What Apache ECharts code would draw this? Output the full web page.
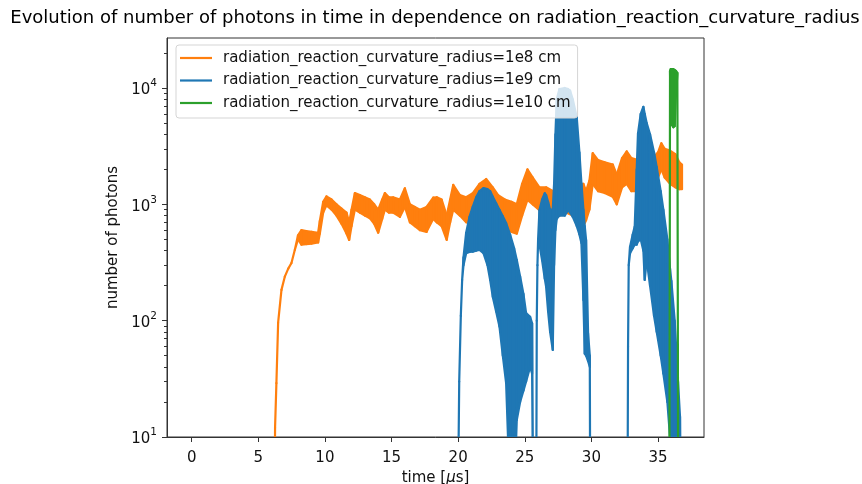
<!DOCTYPE html>
<html>
<head>
<meta charset="utf-8">
<script src="https://cdn.jsdelivr.net/npm/echarts@6/dist/echarts.min.js"></script>
<style>
html,body{margin:0;padding:0;background:#fff;}
#chart{width:862px;height:484px;}
</style>
</head>
<body>
<div id="chart"></div>
<script>
// ---------------- data ----------------
const TITLE = 'Evolution of number of photons in time in dependence on radiation_reaction_curvature_radius';
const SERIES_NAMES = [
  'radiation_reaction_curvature_radius=1e8 cm',
  'radiation_reaction_curvature_radius=1e9 cm',
  'radiation_reaction_curvature_radius=1e10 cm'
];
const X_TICKS = [0, 5, 10, 15, 20, 25, 30, 35];
const Y_TICKS = [10, 100, 1000, 10000];
const Y_MINOR = [20,30,40,50,60,70,80,90,200,300,400,500,600,700,800,900,2000,3000,4000,5000,6000,7000,8000,9000,20000];

// 1e8 cm (orange): time, lower envelope, upper envelope of the noisy trace
const T_1E8  = [6.20,6.26,6.36,6.49,6.74,6.99,7.25,7.49,7.74,7.98,8.24,8.6,9.0,9.49,9.62,9.87,10.12,10.5,10.87,11.25,11.62,11.82,12.0,12.25,12.62,13.0,13.37,13.7,14.0,14.3,14.5,14.8,15.12,15.63,16.0,16.38,16.75,17.13,17.63,18.13,18.4,18.76,19.14,19.4,19.63,20.13,20.6,21.1,21.6,22.1,22.6,23.0,23.5,24.0,24.4,24.8,25.2,25.6,26.1,26.6,27.1,27.6,28.1,28.6,29.1,29.4,29.6,29.85,30.1,30.5,31.0,31.6,31.9,32.3,32.65,33.0,33.5,34.0,34.5,35.0,35.25,35.5,35.9,36.3,36.6,36.8];
const LO_1E8 = [1,12,29,96,184,239,280,313,405,500,450,455,460,470,560,850,980,900,800,680,560,494,650,900,850,800,760,680,570,750,900,850,850,780,950,700,650,600,580,750,700,650,495,700,900,800,700,750,900,950,850,700,620,580,560,800,1090,1000,890,900,800,800,850,800,700,650,730,900,1500,1300,1250,1160,1000,1400,1500,1300,1300,1400,1400,1700,2000,1700,1500,1400,1350,1350];
const HI_1E8 = [1,12,29,96,184,239,280,313,405,540,600,590,580,570,720,1050,1170,1100,1000,920,850,700,900,1250,1200,1150,1100,1000,900,1100,1250,1150,1150,1100,1375,1000,950,900,950,1140,1150,1100,800,1100,1470,1200,1150,1250,1500,1650,1400,1200,1100,1050,1000,1500,2000,1700,1400,1400,1300,1300,1350,1300,1400,1500,1300,1600,2750,2400,2300,2200,1800,2500,2850,2500,2400,2400,2400,2800,3350,3000,2900,2700,2300,2200];

// 1e9 cm (blue)
const T_1E9  = [19.95,20.08,20.2,20.3,20.4,20.6,20.85,21.1,21.35,21.6,21.9,22.2,22.4,22.6,22.85,23.1,23.35,23.6,23.9,24.2,24.4,24.65,24.9,25.1,25.4,25.55,25.65,25.85,25.9,25.95,26.0,26.1,26.3,26.5,26.6,26.75,26.9,27.1,27.2,27.3,27.4,27.6,28.0,28.25,28.4,28.6,28.9,29.1,29.25,29.4,29.5,29.6,29.75,29.88,29.92,32.7,32.75,32.8,32.9,33.1,33.25,33.4,33.5,33.7,33.9,34.0,34.15,34.4,34.7,34.9,35.2,35.4,35.7,35.9,36.0,36.25,36.5,36.65,36.72];
const LO_1E9 = [1,30,110,224,300,380,390,392,400,405,380,300,224,160,120,89,50,29,3,3,14,20,25,30,40,35,1,1,100,300,480,450,330,230,196,120,80,56,300,600,750,800,800,890,850,780,650,550,465,150,52,50,45,40,1,1,60,300,380,420,450,450,480,500,400,224,330,200,110,80,50,35,20,10,3,3,3,3,1];
const HI_1E9 = [1,30,110,224,350,570,780,955,1150,1300,1380,1350,1300,1165,1020,900,790,690,550,420,333,240,170,116,108,95,1,1,100,300,500,890,1100,1245,1200,1050,900,900,1500,4000,8000,9800,10000,9800,9500,8000,5600,2800,1520,900,650,494,78,50,1,1,60,300,433,550,643,2000,4100,6000,6900,6000,5000,4000,2800,2100,1300,900,500,280,220,100,30,15,1];

// 1e10 cm (green)
const T_1E10  = [35.85,35.9,35.95,36.05,36.15,36.25,36.35,36.45,36.52];
const LO_1E10 = [1,14000,6000,4800,4600,4700,9000,13000,1];
const HI_1E10 = [1,14000,14500,14500,14500,14300,14000,13500,1];

const COLORS = ['#ff7f0e', '#1f77b4', '#2ca02c'];

// ---------------- chart ----------------
const FONT = 'DejaVu Sans';
const TXT = '#111';

function bandSeries(name, color, xs, lo, hi) {
  return {
    name: name, type: 'custom', clip: true,
    itemStyle: {color: color},
    encode: {x: 0, y: [1, 2]},
    data: xs.map((x, i) => [x, lo[i], hi[i]]),
    renderItem: function (params, api) {
      const i = params.dataIndex;
      if (i >= xs.length - 1) return null;
      const pts = [
        api.coord([xs[i], lo[i]]),
        api.coord([xs[i + 1], lo[i + 1]]),
        api.coord([xs[i + 1], hi[i + 1]]),
        api.coord([xs[i], hi[i]])
      ];
      const cs = params.coordSys;
      return {
        type: 'polygon',
        shape: {points: pts},
        style: {fill: color, stroke: color, lineWidth: 2.2, lineJoin: 'round'},
        clipPath: {type: 'rect', shape: {x: cs.x, y: cs.y, width: cs.width, height: cs.height}},
        silent: true
      };
    },
    emphasis: {disabled: true}
  };
}

const series = [
  bandSeries(SERIES_NAMES[0], COLORS[0], T_1E8, LO_1E8, HI_1E8),
  bandSeries(SERIES_NAMES[1], COLORS[1], T_1E9, LO_1E9, HI_1E9),
  bandSeries(SERIES_NAMES[2], COLORS[2], T_1E10, LO_1E10, HI_1E10)
];

const axisColor = '#333';
const option = {
  animation: false,
  backgroundColor: '#fff',
  title: {
    text: TITLE, left: 435, top: 9, padding: 0, textAlign: 'center',
    textStyle: {fontFamily: FONT, fontSize: 18, fontWeight: 'normal', color: '#000'}
  },
  grid: {left: 167, right: 158, top: 38, bottom: 47, show: true, borderColor: axisColor, borderWidth: 1,
         containLabel: false, outerBoundsMode: 'none'},
  legend: {
    orient: 'vertical', left: 176, top: 45,
    data: SERIES_NAMES.map((n, k) => ({name: n, icon: 'rect', itemStyle: {color: COLORS[k]}})),
    itemWidth: 32, itemHeight: 2.2, itemGap: 5.5,
    padding: [4.5, 7, 6.5, 4],
    backgroundColor: 'rgba(255,255,255,0.8)', borderColor: '#d5d5d5', borderWidth: 1, borderRadius: 3,
    textStyle: {fontFamily: FONT, fontSize: 15, lineHeight: 17, color: TXT, padding: [0, 0, 0, 6]},
    selectedMode: false
  },
  xAxis: {
    type: 'value', min: -1.85, max: 38.45,
    name: 'time [{i|μ}s]', nameLocation: 'middle', nameGap: 32,
    nameTextStyle: {fontFamily: FONT, fontSize: 15, color: TXT,
      rich: {i: {fontFamily: FONT, fontSize: 15, fontStyle: 'italic', color: TXT}}},
    axisLine: {show: true, onZero: false, lineStyle: {color: axisColor, width: 1}},
    axisTick: {show: true, length: 5, customValues: X_TICKS, lineStyle: {color: axisColor}},
    axisLabel: {customValues: X_TICKS, margin: 14, fontFamily: FONT, fontSize: 15, color: TXT},
    splitLine: {show: false}
  },
  yAxis: [
    {
      type: 'log', logBase: 10, min: 10, max: 26900, position: 'left',
      name: 'number of photons', nameLocation: 'middle', nameGap: 44,
      nameTextStyle: {fontFamily: FONT, fontSize: 15, color: TXT},
      axisLine: {show: true, onZero: false, lineStyle: {color: axisColor, width: 1}},
      axisTick: {show: true, length: 5, customValues: Y_TICKS, lineStyle: {color: axisColor}},
      axisLabel: {
        customValues: Y_TICKS, margin: 10,
        formatter: function (v) { return '{b|10}{s|' + Math.round(Math.log10(v)) + '}'; },
        rich: {
          b: {fontFamily: FONT, fontSize: 15, color: TXT, verticalAlign: 'bottom', lineHeight: 20},
          s: {fontFamily: FONT, fontSize: 10.5, color: TXT, verticalAlign: 'top', lineHeight: 10}
        }
      },
      splitLine: {show: false}
    },
    {
      type: 'log', logBase: 10, min: 10, max: 26900, position: 'left',
      axisLine: {show: false, onZero: false},
      axisTick: {show: true, length: 3, customValues: Y_MINOR, lineStyle: {color: axisColor}},
      axisLabel: {show: false},
      splitLine: {show: false}
    }
  ],
  series: series
};

const chart = echarts.init(document.getElementById('chart'), null, {renderer: 'canvas'});
chart.setOption(option);
</script>
</body>
</html>
